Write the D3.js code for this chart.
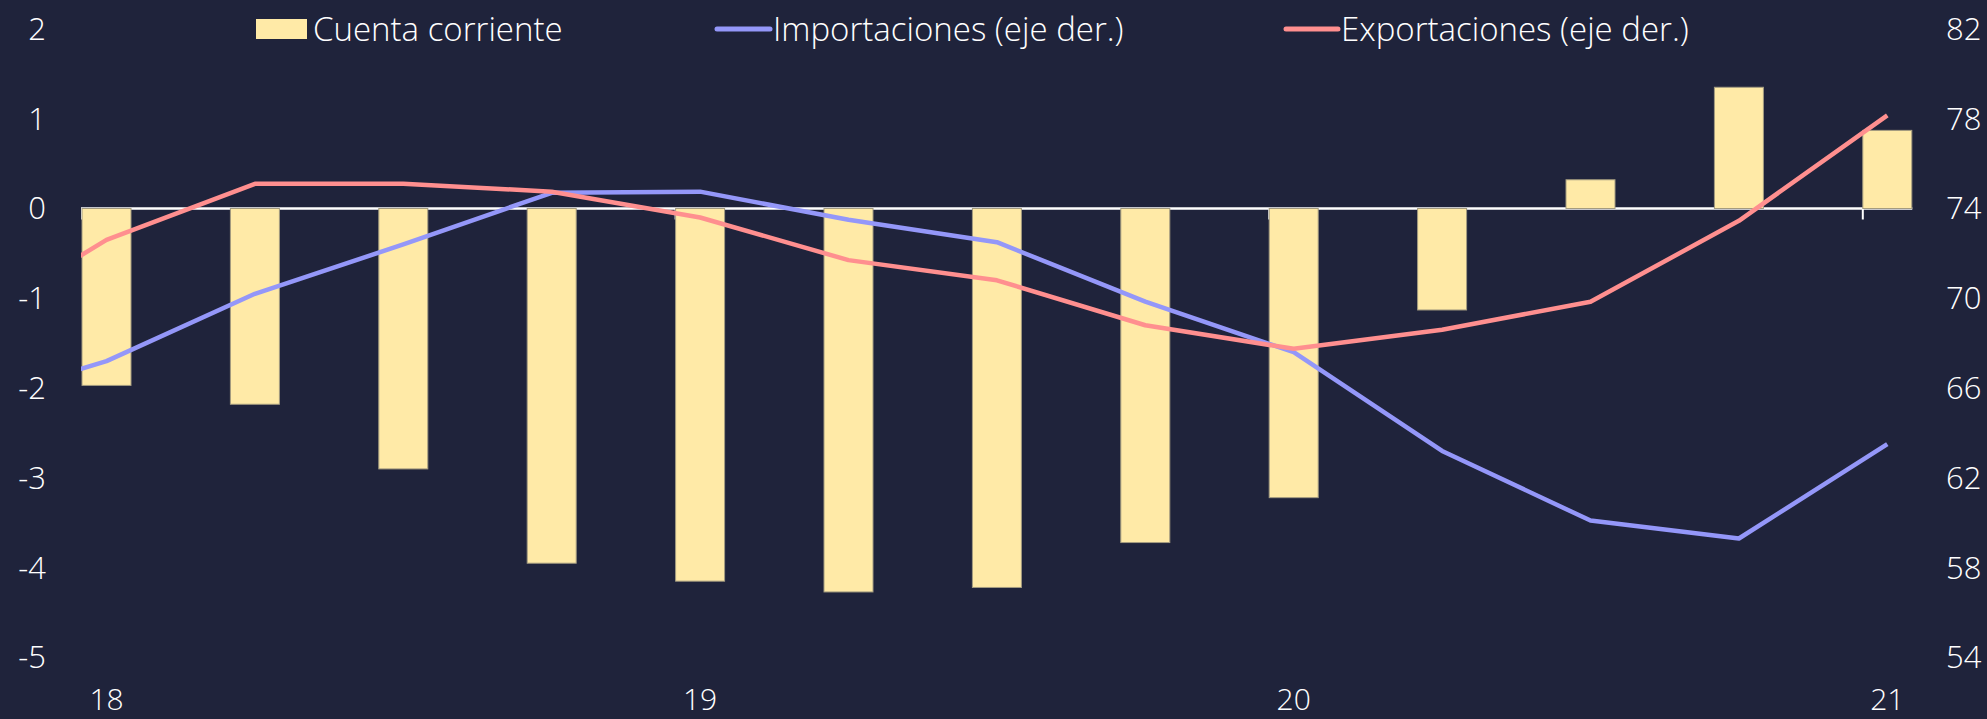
<!DOCTYPE html>
<html>
<head>
<meta charset="utf-8">
<script src="https://cdn.jsdelivr.net/npm/d3@7"></script>
<style>
  html, body { margin: 0; padding: 0; background: #1f233b; }
  svg { display: block; }
  text { font-family: "Open Sans", "Lato", sans-serif; font-weight: 300; fill: #ffffff; }
</style>
</head>
<body>
<svg width="1987" height="719"></svg>
<script>
// quarters 2017T4 .. 2021T1 (first one only feeds the lines, it sits left of the plot)
var quarters = ["17T4","18T1","18T2","18T3","18T4","19T1","19T2","19T3","19T4","20T1","20T2","20T3","20T4","21T1"];
var cuenta = [null,-1.97,-2.18,-2.90,-3.95,-4.15,-4.27,-4.22,-3.72,-3.22,-1.13,0.32,1.35,0.87];
var importaciones = [65.2,67.2,70.2,72.4,74.7,74.75,73.5,72.5,69.85,67.6,63.2,60.1,59.3,63.5];
var exportaciones = [68.6,72.6,75.1,75.1,74.75,73.6,71.7,70.8,68.8,67.75,68.6,69.85,73.45,78.15];
var yearTicks = [{q:"18T1", label:"18"},{q:"19T1", label:"19"},{q:"20T1", label:"20"},{q:"21T1", label:"21"}];
var leftTicks = [2,1,0,-1,-2,-3,-4,-5];
var rightTicks = [82,78,74,70,66,62,58,54];

var svg = d3.select("svg");
var idx = function(q) { return quarters.indexOf(q); };

var x = d3.scaleLinear().domain([0, 13]).range([-41.9, 1887.3]);
var yL = d3.scaleLinear().domain([-5, 2]).range([657.5, 28.9]);
var yR = d3.scaleLinear().domain([54, 82]).range([657.5, 28.9]);
var barW = 49;

svg.append("defs").append("clipPath").attr("id", "plot")
  .append("rect").attr("x", 81).attr("y", 0).attr("width", 1860).attr("height", 719);

// zero axis + year ticks
svg.append("line").attr("x1", 81).attr("x2", x(13) + barW / 2 + 0.5)
  .attr("y1", yL(0)).attr("y2", yL(0)).attr("stroke", "#ffffff").attr("stroke-width", 2.5);
svg.selectAll("line.tick").data(yearTicks).enter().append("line").attr("class", "tick")
  .attr("x1", function(d) { return x(idx(d.q)) - barW / 2; })
  .attr("x2", function(d) { return x(idx(d.q)) - barW / 2; })
  .attr("y1", yL(0)).attr("y2", yL(0) + 11)
  .attr("stroke", "#ffffff").attr("stroke-width", 2);

// bars
svg.selectAll("rect.bar").data(cuenta.map(function(v, i) { return {v: v, i: i}; }).filter(function(d) { return d.v !== null; }))
  .enter().append("rect").attr("class", "bar")
  .attr("x", function(d) { return x(d.i) - barW / 2; })
  .attr("width", barW)
  .attr("y", function(d) { return yL(Math.max(0, d.v)); })
  .attr("height", function(d) { return Math.abs(yL(d.v) - yL(0)); })
  .attr("fill", "#ffeaa7").attr("stroke", "#a49c80").attr("stroke-width", 1);

// lines
var lineR = d3.line().x(function(d, i) { return x(i); }).y(function(d) { return yR(d); });
var gl = svg.append("g").attr("clip-path", "url(#plot)");
gl.append("path").datum(importaciones).attr("d", lineR)
  .attr("fill", "none").attr("stroke", "#9497f9").attr("stroke-width", 4.5).attr("stroke-linejoin", "round");
gl.append("path").datum(exportaciones).attr("d", lineR)
  .attr("fill", "none").attr("stroke", "#ff8f8f").attr("stroke-width", 4.5).attr("stroke-linejoin", "round");

// axis labels
svg.selectAll("text.yl").data(leftTicks).enter().append("text")
  .attr("x", 46).attr("y", function(d) { return yL(d); }).attr("dy", "0.35em")
  .attr("text-anchor", "end").attr("font-size", 31).text(function(d) { return d; });
svg.selectAll("text.yr").data(rightTicks).enter().append("text")
  .attr("x", 1946).attr("y", function(d) { return yR(d); }).attr("dy", "0.35em")
  .attr("text-anchor", "start").attr("font-size", 31).text(function(d) { return d; });
svg.selectAll("text.xl").data(yearTicks).enter().append("text")
  .attr("x", function(d) { return x(idx(d.q)); }).attr("y", 710)
  .attr("text-anchor", "middle").attr("font-size", 30).text(function(d) { return d.label; });

// legend
var leg = svg.append("g");
leg.append("rect").attr("x", 256).attr("y", 19).attr("width", 51).attr("height", 20).attr("fill", "#ffeaa7");
leg.append("text").attr("x", 313).attr("y", 29).attr("dy", "0.35em").attr("font-size", 33).text("Cuenta corriente");
leg.append("line").attr("x1", 717).attr("x2", 770).attr("y1", 29).attr("y2", 29)
  .attr("stroke", "#9497f9").attr("stroke-width", 5).attr("stroke-linecap", "round");
leg.append("text").attr("x", 773).attr("y", 29).attr("dy", "0.35em").attr("font-size", 33).text("Importaciones (eje der.)");
leg.append("line").attr("x1", 1286).attr("x2", 1338).attr("y1", 29).attr("y2", 29)
  .attr("stroke", "#ff8f8f").attr("stroke-width", 5).attr("stroke-linecap", "round");
leg.append("text").attr("x", 1341).attr("y", 29).attr("dy", "0.35em").attr("font-size", 33).text("Exportaciones (eje der.)");
</script>
</body>
</html>
